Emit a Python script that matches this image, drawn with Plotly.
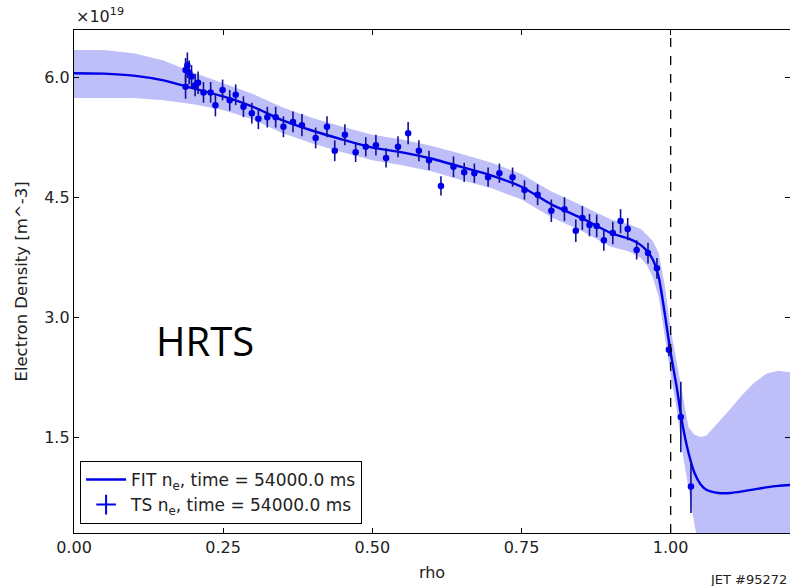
import plotly.graph_objects as go

# Fit profile (rho, n_e in 1e19 m^-3) and its uncertainty band
fit_rho = [0.0, 0.05, 0.10, 0.15, 0.20, 0.25, 0.30, 0.35, 0.40, 0.45, 0.50, 0.55, 0.60,
           0.65, 0.70, 0.75, 0.80, 0.85, 0.90, 0.93, 0.95, 0.96, 0.97, 0.98, 0.99, 1.00,
           1.01, 1.02, 1.03, 1.04, 1.05, 1.06, 1.08, 1.10, 1.12, 1.14, 1.16, 1.18, 1.20]
fit_ne = [6.05, 6.045, 6.02, 5.96, 5.86, 5.76, 5.63, 5.46, 5.33, 5.22, 5.12, 5.06, 4.98,
          4.875, 4.77, 4.63, 4.41, 4.24, 4.05, 3.98, 3.90, 3.83, 3.72, 3.50, 3.05, 2.55,
          2.13, 1.65, 1.30, 1.05, 0.91, 0.84, 0.80, 0.80, 0.82, 0.845, 0.87, 0.89, 0.90]
fit_upper = [6.34, 6.34, 6.30, 6.21, 6.06, 5.93, 5.79, 5.62, 5.49, 5.38, 5.28, 5.22, 5.14,
             5.04, 4.93, 4.79, 4.57, 4.40, 4.22, 4.16, 4.10, 4.03, 3.95, 3.80, 3.40, 2.85,
             2.45, 2.00, 1.62, 1.53, 1.50, 1.52, 1.68, 1.85, 2.03, 2.18, 2.29, 2.33, 2.31]
fit_lower = [5.74, 5.74, 5.74, 5.71, 5.66, 5.59, 5.47, 5.30, 5.17, 5.06, 4.96, 4.90, 4.82,
             4.71, 4.61, 4.47, 4.25, 4.08, 3.88, 3.82, 3.74, 3.65, 3.50, 3.25, 2.75, 2.28,
             1.85, 1.30, 0.85, 0.40, 0.05, -0.30, -0.60, -0.60, -0.60, -0.60, -0.60, -0.60, -0.60]

# Thomson scattering measurements
ts_rho = [0.187, 0.190, 0.193, 0.187, 0.197, 0.203, 0.208, 0.217, 0.229, 0.237, 0.249,
          0.261, 0.271, 0.284, 0.298, 0.309, 0.324, 0.338, 0.351, 0.367, 0.382, 0.405,
          0.424, 0.437, 0.454, 0.472, 0.489, 0.506, 0.523, 0.543, 0.560, 0.578, 0.595,
          0.615, 0.636, 0.654, 0.671, 0.694, 0.713, 0.735, 0.755, 0.777, 0.800, 0.822,
          0.841, 0.852, 0.864, 0.876, 0.888, 0.903, 0.916, 0.928, 0.943, 0.962, 0.977,
          0.997, 1.017, 1.034]
ts_ne = [6.09, 6.15, 6.06, 5.88, 6.01, 5.90, 5.93, 5.81, 5.81, 5.65, 5.84,
         5.71, 5.78, 5.63, 5.55, 5.48, 5.50, 5.50, 5.38, 5.44, 5.40, 5.24,
         5.38, 5.08, 5.28, 5.06, 5.13, 5.15, 4.99, 5.13, 5.30, 5.08, 4.96,
         4.64, 4.88, 4.81, 4.80, 4.75, 4.80, 4.75, 4.59, 4.53, 4.33, 4.35,
         4.08, 4.24, 4.15, 4.14, 3.96, 4.05, 4.20, 4.10, 3.84, 3.80, 3.61,
         2.59, 1.75, 0.88]
ts_err = [0.15, 0.16, 0.15, 0.15, 0.14, 0.14, 0.14, 0.13, 0.13, 0.14, 0.13,
          0.13, 0.13, 0.13, 0.13, 0.13, 0.13, 0.13, 0.13, 0.13, 0.14, 0.13,
          0.13, 0.13, 0.13, 0.12, 0.12, 0.13, 0.12, 0.13, 0.14, 0.13, 0.12,
          0.12, 0.13, 0.12, 0.12, 0.12, 0.12, 0.12, 0.12, 0.13, 0.14, 0.15,
          0.14, 0.15, 0.14, 0.14, 0.13, 0.14, 0.15, 0.14, 0.12, 0.13, 0.13,
          0.08, 0.44, 0.33]

x_ticks = [0.0, 0.25, 0.5, 0.75, 1.0]
x_tick_text = ["0.00", "0.25", "0.50", "0.75", "1.00"]
y_ticks = [1.5, 3.0, 4.5, 6.0]
y_tick_text = ["1.5", "3.0", "4.5", "6.0"]

BLUE = "#0000e6"
BAR = "#10109a"
FONT = "DejaVu Sans"

fig = go.Figure()
fig.add_trace(go.Scatter(x=fit_rho, y=fit_upper, mode="lines", line=dict(width=0),
                         showlegend=False, hoverinfo="skip"))
fig.add_trace(go.Scatter(x=fit_rho, y=fit_lower, mode="lines", line=dict(width=0),
                         fill="tonexty", fillcolor="rgba(40,40,235,0.30)",
                         showlegend=False, hoverinfo="skip"))
fig.add_trace(go.Scatter(x=fit_rho, y=fit_ne, mode="lines",
                         line=dict(color=BLUE, width=2.4, shape="spline", smoothing=0.6),
                         name="FIT n<sub>e</sub>, time = 54000.0 ms"))
fig.add_trace(go.Scatter(x=ts_rho, y=ts_ne, mode="markers",
                         marker=dict(color=BLUE, size=6.5, symbol="circle"),
                         error_y=dict(type="data", array=ts_err, color=BAR, thickness=1.6, width=0),
                         showlegend=False))
fig.add_trace(go.Scatter(x=[None], y=[None], mode="markers",
                         marker=dict(color=BLUE, size=14, symbol="cross-thin",
                                     line=dict(color=BLUE, width=2)),
                         name="TS n<sub>e</sub>, time = 54000.0 ms"))

fig.add_shape(type="line", x0=1.0, x1=1.0, y0=0, y1=1, xref="x", yref="paper",
              line=dict(color="black", width=1.3, dash="dash"))

fig.add_annotation(text="HRTS", x=0.219, y=2.71, xref="x", yref="y", showarrow=False,
                   font=dict(family="Open Sans", size=40, color="black"))
fig.add_annotation(text="×10<sup>19</sup>", x=0, y=1.0, xref="paper", yref="paper",
                   xanchor="left", yanchor="bottom", yshift=2, showarrow=False,
                   font=dict(family=FONT, size=16, color="#222"))
fig.add_annotation(text="JET #95272", x=(708 - 74) / 716, y=0, xref="paper", yref="paper",
                   xanchor="left", yanchor="top", yshift=-37, showarrow=False,
                   font=dict(family=FONT, size=13, color="#222"))

fig.update_layout(
    width=790, height=586,
    margin=dict(l=74, r=0, t=30, b=53),
    paper_bgcolor="white", plot_bgcolor="white",
    font=dict(family=FONT, size=16, color="#222"),
    legend=dict(x=0.0085, y=0.018, xanchor="left", yanchor="bottom",
                bgcolor="white", bordercolor="black", borderwidth=1,
                traceorder="normal",
                font=dict(family=FONT, size=17, color="#222"),
                tracegroupgap=0, itemwidth=40),
    xaxis=dict(range=[0, 1.2], tickvals=x_ticks, ticktext=x_tick_text,
               showgrid=False, zeroline=False, showline=True, linecolor="black", linewidth=1.3,
               mirror="ticks", ticks="inside", ticklen=5, tickcolor="black",
               tickfont=dict(size=16), automargin=False,
               title=dict(text="rho", standoff=10, font=dict(size=16))),
    yaxis=dict(range=[0.30, 6.59], tickvals=y_ticks, ticktext=y_tick_text,
               showgrid=False, zeroline=False, showline=True, linecolor="black", linewidth=1.3,
               mirror="ticks", ticks="inside", ticklen=5, tickcolor="black",
               tickfont=dict(size=16), automargin=False,
               title=dict(text="Electron Density [m^-3]", standoff=12, font=dict(size=16.5))),
)

fig.write_html("out.html", config={"displayModeBar": False},
               post_script="document.body.style.margin='0px';document.body.style.overflow='hidden';")
